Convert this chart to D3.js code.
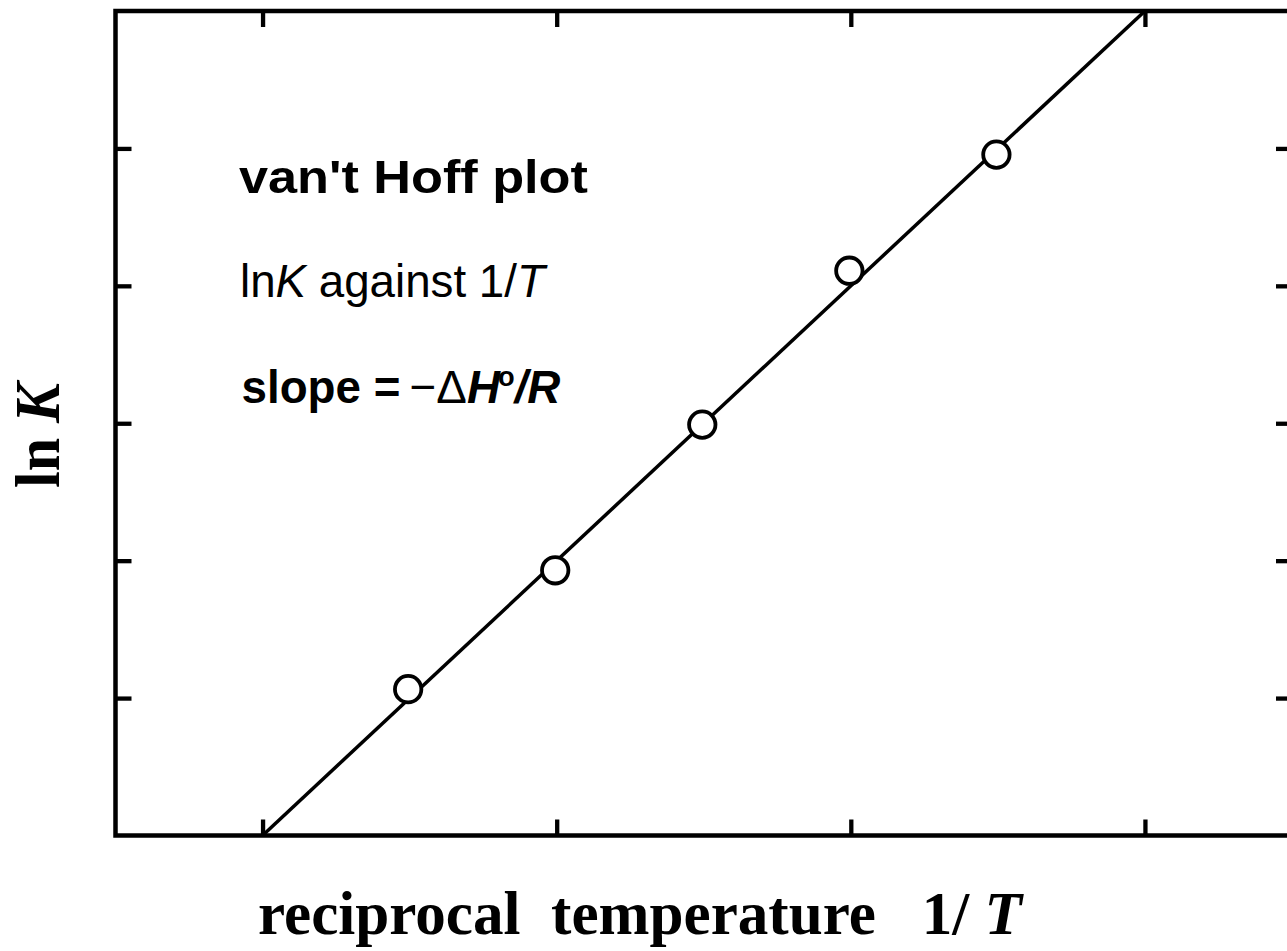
<!DOCTYPE html>
<html>
<head>
<meta charset="utf-8">
<script src="https://cdn.jsdelivr.net/npm/d3@7"></script>
<style>
  html, body { margin: 0; padding: 0; background: #fff; }
  svg { display: block; }
</style>
</head>
<body>
<svg id="chart" width="1287" height="951"></svg>
<script>
// ---- data ----
const xTicks = [1, 3, 5, 7];
const yTicks = [1, 2, 3, 4, 5];
const pointX = [1.99, 2.99, 3.99, 4.99, 5.99];
const pointY = [1.065, 1.93, 2.99, 4.11, 4.955];
const fitX = [1, 7];
const fitY = [0, 6];
const xDomain = [0, 8];
const yDomain = [0, 6];

// ---- layout ----
const plotL = 115.5, plotR = 1292, plotT = 11, plotB = 835.5;
const svg = d3.select("#chart");
const x = d3.scaleLinear().domain(xDomain).range([plotL, plotR]);
const y = d3.scaleLinear().domain(yDomain).range([plotB, plotT]);
const tickLen = 16;

function styleAxis(g) {
  g.select(".domain").remove();
  g.selectAll(".tick line").attr("stroke", "#000").attr("stroke-width", 4.3);
  g.selectAll(".tick text").remove();
}

svg.append("g").attr("transform", `translate(0,${plotB})`)
  .call(d3.axisBottom(x).tickValues(xTicks).tickSize(-tickLen).tickFormat("")).call(styleAxis);
svg.append("g").attr("transform", `translate(0,${plotT})`)
  .call(d3.axisTop(x).tickValues(xTicks).tickSize(-tickLen).tickFormat("")).call(styleAxis);
svg.append("g").attr("transform", `translate(${plotL},0)`)
  .call(d3.axisLeft(y).tickValues(yTicks).tickSize(-tickLen).tickFormat("")).call(styleAxis);
svg.append("g").attr("transform", `translate(${plotR},0)`)
  .call(d3.axisRight(y).tickValues(yTicks).tickSize(-tickLen).tickFormat("")).call(styleAxis);

// frame
svg.append("rect")
  .attr("x", x(xDomain[0])).attr("y", y(yDomain[1]))
  .attr("width", x(xDomain[1]) - x(xDomain[0]))
  .attr("height", y(yDomain[0]) - y(yDomain[1]))
  .attr("fill", "none").attr("stroke", "#000").attr("stroke-width", 4.5);

// fitted line
const fit = fitX.map((v, i) => [v, fitY[i]]);
svg.append("path").datum(fit)
  .attr("d", d3.line().x(d => x(d[0])).y(d => y(d[1])))
  .attr("fill", "none").attr("stroke", "#000").attr("stroke-width", 3.5);

// points
const pts = pointX.map((v, i) => [v, pointY[i]]);
svg.append("g").selectAll("circle").data(pts).join("circle")
  .attr("cx", d => x(d[0])).attr("cy", d => y(d[1])).attr("r", 13.2)
  .attr("fill", "#fff").attr("stroke", "#000").attr("stroke-width", 3.8);

// ---- texts ----
function fitText(t, tx, ty, targetW, rot) {
  const w = t.node().getComputedTextLength();
  const s = targetW / w;
  t.attr("transform", `translate(${tx},${ty})` + (rot ? ` rotate(${rot})` : "") + ` scale(${s},1)`);
}

const sans = "'Liberation Sans', Arial, Helvetica, sans-serif";
const serif = "'Liberation Serif', 'Times New Roman', Times, serif";

// title
const t1 = svg.append("text").attr("x", 0).attr("y", 0)
  .attr("font-family", sans).attr("font-weight", "bold").attr("font-size", 47)
  .text("van't Hoff plot");
fitText(t1, 239, 193, 349);

// lnK against 1/T
const t2 = svg.append("text").attr("x", 0).attr("y", 0)
  .attr("font-family", sans).attr("font-size", 46);
t2.append("tspan").text("ln");
t2.append("tspan").attr("font-style", "italic").text("K");
t2.append("tspan").text(" against 1/");
t2.append("tspan").attr("font-style", "italic").text("T");
fitText(t2, 240, 297, 305);

// slope = −ΔH°/R
const t3 = svg.append("text").attr("x", 0).attr("y", 0)
  .attr("font-family", sans).attr("font-weight", "bold").attr("font-size", 47);
t3.append("tspan").text("slope =\u2009");
t3.append("tspan").attr("font-weight", "normal").text("\u2212\u0394");
t3.append("tspan").attr("font-style", "italic").text("H");
t3.append("tspan").attr("font-size", 28).attr("dy", -17).attr("dx", -2).text("o");
t3.append("tspan").attr("dy", 17).attr("font-style", "italic").text("/R");
fitText(t3, 241.5, 403, 321);

// x axis title
const xl = svg.append("text").attr("x", 0).attr("y", 0)
  .attr("font-family", serif).attr("font-weight", "bold").attr("font-size", 62)
  .style("white-space", "pre");
xl.append("tspan").text("reciprocal  temperature   1/ ");
xl.append("tspan").attr("font-style", "italic").text("T");
fitText(xl, 258, 934, 764);

// y axis title
const yl = svg.append("text").attr("x", 0).attr("y", 0)
  .attr("font-family", serif).attr("font-weight", "bold").attr("font-size", 64)
  .attr("text-anchor", "middle").style("white-space", "pre");
yl.append("tspan").text("ln ");
yl.append("tspan").attr("font-style", "italic").text("K");
fitText(yl, 59, 435.5, 105, -90);
</script>
</body>
</html>
